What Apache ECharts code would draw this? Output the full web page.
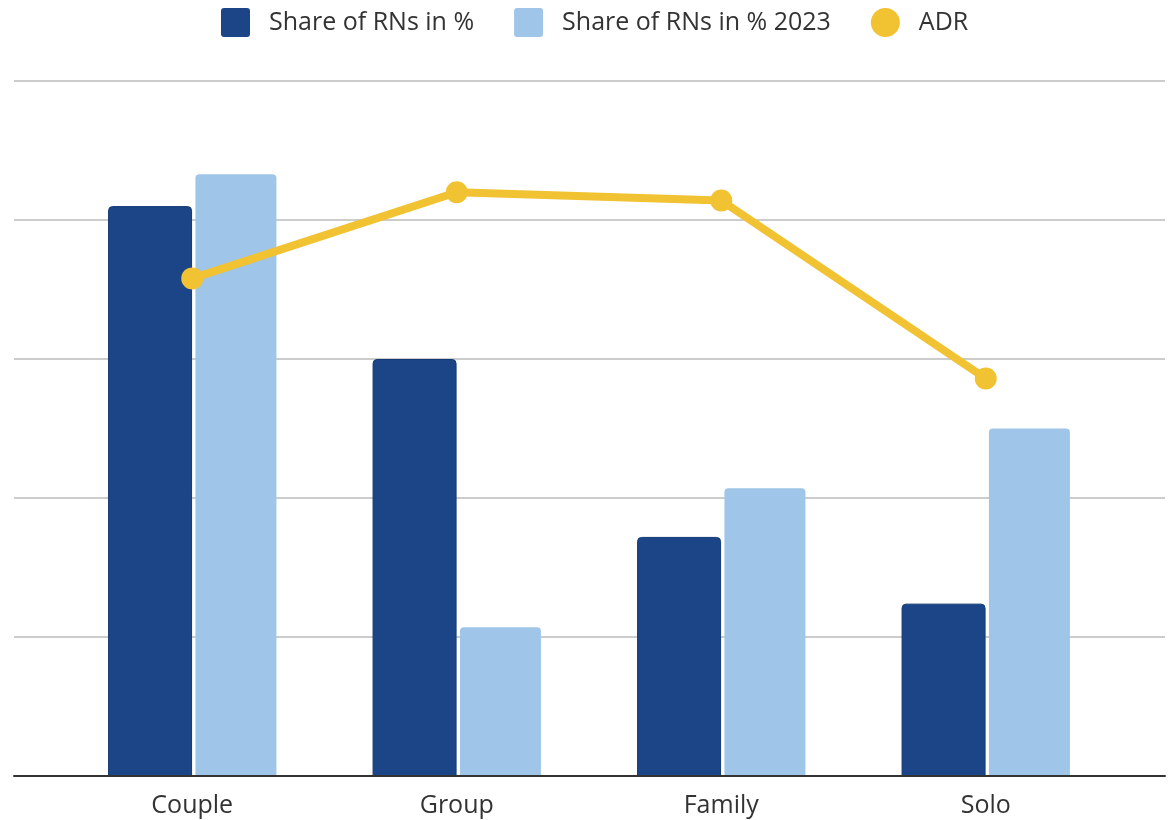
<!DOCTYPE html>
<html>
<head>
<meta charset="utf-8">
<script src="https://cdn.jsdelivr.net/npm/echarts@6/dist/echarts.min.js"></script>
<style>
  html, body { margin: 0; padding: 0; background: #fff; }
  #chart-container { width: 1172px; height: 820px; }
</style>
</head>
<body>
<div id="chart-container"></div>
<script>
const categories = ["Couple", "Group", "Family", "Solo"];
const shareRNs = [41.0, 30.0, 17.2, 12.4];
const shareRNs2023 = [43.3, 10.7, 20.7, 25.0];
const adr = [35.8, 42.0, 41.4, 28.6];

const fontFamily = "'Open Sans', 'Noto Sans', sans-serif";
// square legend marker with small rounded corners
const squareIcon = "path://M3,0 H26 Q29,0 29,3 V26 Q29,29 26,29 H3 Q0,29 0,26 V3 Q0,0 3,0 Z";

const chartDom = document.getElementById("chart-container");
const myChart = echarts.init(chartDom);

const option = {
    backgroundColor: "#fff",
    animation: false,
    legend: {
        top: 3,
        left: 216,
        itemWidth: 29,
        itemHeight: 29,
        itemGap: 40,
        itemStyle: { borderWidth: 0 },
        textStyle: {
            fontFamily: fontFamily,
            fontSize: 25,
            color: "#333",
            padding: [0, 0, 0, 14]
        },
        data: [
            { name: "Share of RNs in %", icon: squareIcon },
            { name: "Share of RNs in % 2023", icon: squareIcon },
            { name: "ADR", icon: "circle" }
        ]
    },
    grid: [
        // background grid with gridlines and baseline spanning full width
        { left: 14, right: 7, top: 81, bottom: 44 },
        // plot area for the categories
        { left: 60, right: 54, top: 81, bottom: 44 }
    ],
    xAxis: [
        {
            gridIndex: 0,
            type: "category",
            data: [""],
            axisLine: { show: true, lineStyle: { color: "#333", width: 2 } },
            axisTick: { show: false },
            axisLabel: { show: false },
            z: 5
        },
        {
            gridIndex: 1,
            type: "category",
            data: categories,
            axisLine: { show: false },
            axisTick: { show: false },
            axisLabel: {
                fontFamily: fontFamily,
                fontSize: 25,
                color: "#333",
                margin: 17
            }
        }
    ],
    yAxis: [
        {
            gridIndex: 0,
            type: "value",
            min: 0,
            max: 50,
            interval: 10,
            axisLine: { show: false },
            axisTick: { show: false },
            axisLabel: { show: false },
            splitLine: { lineStyle: { color: "#cccccc", width: 2 } }
        },
        {
            gridIndex: 1,
            type: "value",
            min: 0,
            max: 50,
            interval: 10,
            axisLine: { show: false },
            axisTick: { show: false },
            axisLabel: { show: false },
            splitLine: { show: false }
        }
    ],
    series: [
        {
            name: "Share of RNs in %",
            type: "bar",
            xAxisIndex: 1,
            yAxisIndex: 1,
            barWidth: 84,
            barGap: "4%",
            itemStyle: {
                color: "#1c4587",
                borderColor: "#123a75",
                borderWidth: 1,
                borderRadius: [4, 4, 0, 0]
            },
            data: shareRNs
        },
        {
            name: "Share of RNs in % 2023",
            type: "bar",
            xAxisIndex: 1,
            yAxisIndex: 1,
            barWidth: 81,
            itemStyle: {
                color: "#9fc5e8",
                borderRadius: [4, 4, 0, 0]
            },
            data: shareRNs2023
        },
        {
            name: "ADR",
            type: "line",
            xAxisIndex: 1,
            yAxisIndex: 1,
            symbol: "circle",
            symbolSize: 22,
            z: 10,
            lineStyle: { color: "#f1c232", width: 8 },
            itemStyle: { color: "#f1c232" },
            data: adr
        }
    ]
};

myChart.setOption(option);
</script>
</body>
</html>
